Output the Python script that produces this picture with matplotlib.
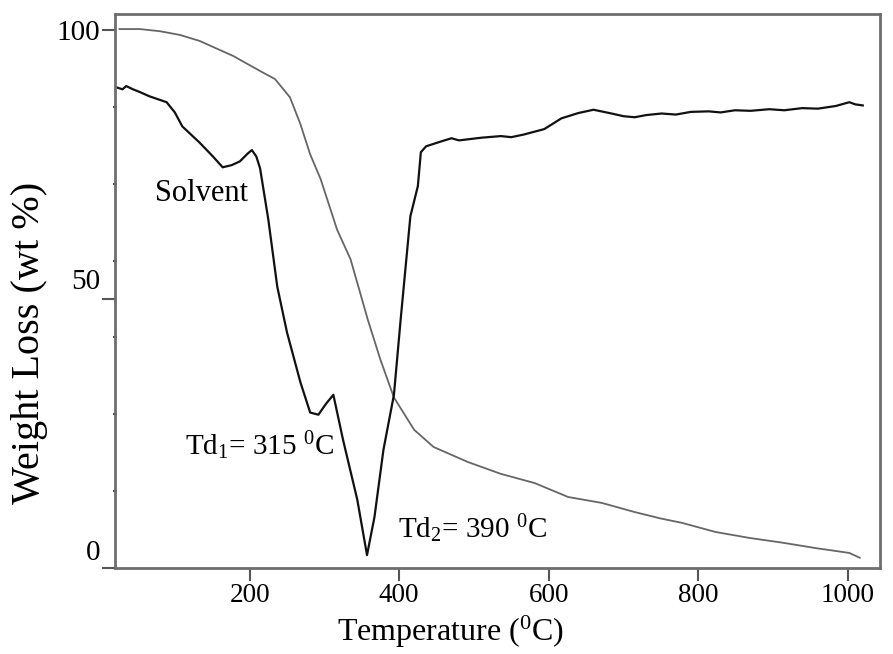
import matplotlib
matplotlib.use("Agg")
import matplotlib.pyplot as plt
import matplotlib.transforms as mtransforms
import numpy as np

# TGA curve (grey)
temp_tga = [26, 53, 80, 107, 133, 178, 214, 234, 254, 268, 281, 295, 317, 335, 358, 375,
            393, 420, 446, 492, 536, 581, 626, 671, 715, 750, 778, 823, 868, 913, 957, 1002,
            1016]
weight_tga = [100.2, 100.2, 99.8, 99.1, 98.0, 95.2, 92.4, 90.9, 87.5, 82.5, 76.9, 72.3, 62.9,
              57.4, 46.2, 38.7, 31.7, 25.7, 22.5, 19.7, 17.5, 15.8, 13.2, 12.1, 10.4, 9.2,
              8.4, 6.7, 5.6, 4.7, 3.7, 2.8, 1.9]

# derivative curve (black)
temp_dtg = [21, 30, 35, 44, 53, 66, 89, 100, 110, 133, 151, 164, 176, 187, 197, 203, 209, 214,
            225, 237, 250, 268, 281, 292, 302, 312, 325, 344, 357, 367, 379, 393, 402, 415,
            425, 429, 436, 456, 470, 480, 492, 510, 536, 550, 567, 594, 617, 640, 660, 684,
            700, 715, 730, 751, 770, 790, 814, 830, 849, 870, 895, 915, 939, 960, 984, 1002,
            1010, 1020]
weight_dtg = [89.4, 89.0, 89.6, 89.0, 88.5, 87.7, 86.6, 84.7, 82.1, 79.1, 76.5, 74.5, 74.9,
              75.6, 77.0, 77.7, 76.5, 74.3, 64.8, 52.3, 43.8, 34.5, 28.9, 28.5, 30.5, 32.2,
              23.8, 12.7, 2.4, 9.5, 22.0, 32.2, 46.2, 65.4, 71.0, 77.3, 78.4, 79.3, 79.9,
              79.5, 79.7, 80.0, 80.3, 80.1, 80.6, 81.6, 83.6, 84.6, 85.2, 84.5, 84.0, 83.8,
              84.2, 84.5, 84.3, 84.8, 84.9, 84.7, 85.1, 85.0, 85.3, 85.1, 85.5, 85.4, 85.9,
              86.6, 86.2, 86.0]

plt.rcParams['font.family'] = ['Liberation Serif', 'DejaVu Serif']
plt.rcParams['mathtext.fontset'] = 'custom'
plt.rcParams['mathtext.rm'] = 'Liberation Serif'
plt.rcParams['mathtext.default'] = 'regular'

fig = plt.figure(figsize=(8.93, 6.54), dpi=100)
ax = fig.add_axes([0.1288, 0.1315, 0.8566, 0.8471])

ax.plot(temp_tga, weight_tga, color='#666666', lw=1.3)
ax.plot(temp_dtg, weight_dtg, color='#111111', lw=1.6)

ax.set_xlim(20, 1043)
ax.set_ylim(0, 103)
ax.set_xticks([200, 400, 600, 800, 1000])
ax.set_yticks([0, 50, 100])
ax.set_yticks(np.arange(1, 7) * 100 / 7, minor=True)

for s in ax.spines.values():
    s.set_color('#6e6e6e')
    s.set_linewidth(2)

ax.tick_params(axis='x', direction='out', length=9, width=1.5, color='#555555',
               labelsize=19.5, pad=1.5)
ax.tick_params(axis='y', which='major', direction='out', length=9.5, width=1.5,
               color='#555555', labelsize=21, pad=1)
ax.tick_params(axis='y', which='minor', direction='inout', length=3, width=1.5,
               color='#444444')

# lift the lower y labels above their tick marks
shifts = {0: 18, 1: 20, 2: 0}
for i, lab in enumerate(ax.get_yticklabels()):
    off = mtransforms.ScaledTranslation(0, shifts[i] / 100, fig.dpi_scale_trans)
    lab.set_transform(lab.get_transform() + off)

ax.set_xlabel('Temperature ($^0$C)', fontsize=23)
ax.set_ylabel('Weight Loss (wt %)', fontsize=29)
ax.xaxis.set_label_coords(0.438, -0.082)
ax.yaxis.set_label_coords(-0.087, 0.406)

ax.text(73, 68.2, 'Solvent', fontsize=22)
ax.text(113, 21.0, 'Td$_1$= 315 $^0$C', fontsize=21)
ax.text(398, 5.6, 'Td$_2$= 390 $^0$C', fontsize=21)

fig.savefig('out.png', dpi=100)
